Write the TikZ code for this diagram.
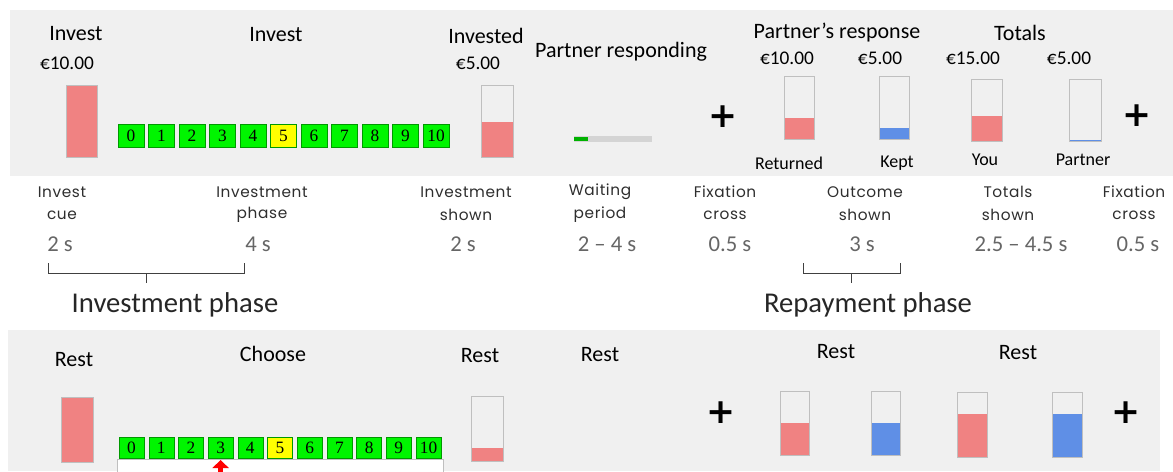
\documentclass[tikz,border=0pt]{standalone}
\usepackage{fontspec}
\setmainfont{Carlito}
\newfontfamily\stagefont[LetterSpace=4]{Poppins}
\newfontfamily\digitfont{Liberation Serif}
\newfontfamily\plusfont{DejaVu Sans}
\usetikzlibrary{arrows.meta}
\definecolor{panelgray}{HTML}{F0F0F0}
\definecolor{coinred}{HTML}{F08282}
\definecolor{coinblue}{HTML}{5F8FE6}
\definecolor{keygreen}{HTML}{00F500}
\definecolor{keyyellow}{HTML}{FFFF00}
\definecolor{stagetext}{HTML}{2E2E2E}
\definecolor{durtext}{HTML}{666666}
\tikzset{
  heading/.style={font=\fontsize{16.5}{18}\selectfont,inner sep=0pt},
  money/.style={font=\fontsize{14.5}{16}\selectfont,inner sep=0pt},
  tag/.style={font=\fontsize{13.5}{15}\selectfont,inner sep=0pt},
  stage/.style={font=\stagefont\fontsize{11.5}{13}\selectfont,text=stagetext,inner sep=0pt},
  dur/.style={font=\fontsize{17}{19}\selectfont,text=durtext,inner sep=0pt},
  phase/.style={font=\fontsize{21.5}{23}\selectfont,text=black!85,inner sep=0pt},
  key/.style={draw=green!60!black,line width=.3pt,inner sep=0pt,font=\digitfont\fontsize{13}{14}\selectfont},
  plus/.style={font=\plusfont\bfseries\fontsize{26}{26}\selectfont,inner sep=0pt},
  tube/.style={draw=black!25,line width=.6pt},
  brace/.style={black!75,line width=.7pt},
}

\begin{document}
\begin{tikzpicture}[x=0.75pt,y=-0.75pt]
\useasboundingbox (0,0) rectangle (1173,471);
\fill[panelgray] (10,10) rectangle (1173,176);
\fill[panelgray] (8,330) rectangle (1160,471);

\node[heading] (investcue) at (76,34) {Invest};
\node[heading] (investkeys) at (276,35) {Invest};
\node[heading] (invested) at (486,36) {Invested};
\node[heading] (waiting) at (621,52) {Partner responding};
\node[heading] (response) at (837,33) {Partner’s response};
\node[heading] (totals) at (1020,33) {Totals};
\node[money] (endow) at (67,63) {€10.00};
\node[money] (sent) at (478,63) {€5.00};
\node[money] (back) at (787,58) {€10.00};
\node[money] (keep) at (880,58) {€5.00};
\node[money] (youtot) at (973,58) {€15.00};
\node[money] (partot) at (1069,58) {€5.00};
\node[tag] (returned) at (789,163) {Returned};
\node[tag] (kept) at (897,163) {Kept};
\node[tag] (you) at (985,160) {You};
\node[tag] (partner) at (1083,160) {Partner};

\foreach \i in {0,...,10}
{
  \ifnum\i=5 \def\keycol{keyyellow}\else\def\keycol{keygreen}\fi
  \node[key,fill=\keycol,minimum width=19.5pt,minimum height=17.25pt] (upkey\i) at ({131+30.5*\i},135.5) {\i};
  \node[key,fill=\keycol,minimum width=18.75pt,minimum height=15.75pt] (lowkey\i) at ({131.5+29.7*\i},447.5) {\i};
}

\foreach \xa/\ya/\xb/\yb/\yf/\col in {66/85/97/157/85/coinred,481/85/513/157/122/coinred,784/76/814/139/118/coinred,879/76/909/139/128/coinblue,971/79/1002/141/116/coinred,1069/79/1101/141/139.5/coinblue,61/397/93/462/397/coinred,471/396/503/461/448/coinred,780/391/809/455/423/coinred,871/391/900/455/423/coinblue,957/392/987/457/414/coinred,1052/392/1082/457/414/coinblue}
{
  \fill[\col] (\xa,\yf) rectangle (\xb,\yb);
  \draw[tube] (\xa,\ya) rectangle (\xb,\yb);
}

\fill[black!17] (574,136) rectangle (652,142);
\fill[green!70!black] (574,137) rectangle (588,141);

\node[plus] (plusA) at (723,117) {+};
\node[plus] (plusB) at (1137,116) {+};
\node[plus] (plusC) at (721,413) {+};
\node[plus] (plusD) at (1126,413) {+};

\foreach \x/\d/\a/\b/\t [count=\n] in {62/60/Invest/cue/2 s,262/258/Investment/phase/4 s,466/463/Investment/shown/2 s,600/607/Waiting/period/2 – 4 s,725/730/Fixation/cross/0.5 s,865/862/Outcome/shown/3 s,1008/1021/Totals/shown/2.5 – 4.5 s,1134/1138/Fixation/cross/0.5 s}
{
  \node[stage] (stage\n) at (\x,192) {\a};
  \node[stage] (kind\n) at (\x,215) {\b};
  \node[dur] (time\n) at (\d,244) {\t};
}

\coordinate (invL) at (48,263);
\coordinate (invR) at (244,263);
\coordinate (invM) at (146,273);
\coordinate (repL) at (803,263);
\coordinate (repR) at (900,263);
\coordinate (repM) at (851,273);
\draw[brace] (invL) -- ++(0,10) -| (invR);
\draw[brace] (invM) -- ++(0,10);
\draw[brace] (repL) -- ++(0,10) -| (repR);
\draw[brace] (repM) -- ++(0,10);
\node[phase] (investphase) at (175,305) {Investment phase};
\node[phase] (repayphase) at (868,305) {Repayment phase};

\node[heading] (rest1) at (74,360) {Rest};
\node[heading] (choose) at (273,354) {Choose};
\node[heading] (rest2) at (480,356) {Rest};
\node[heading] (rest3) at (600,355) {Rest};
\node[heading] (rest4) at (836,352) {Rest};
\node[heading] (rest5) at (1018,353) {Rest};

\draw[black!25,fill=white] (117,459) rectangle (443,476);
\coordinate (cursor) at (220.6,480);
\draw[red,line width=4pt,-{Triangle[width=12pt,length=6pt]}] (cursor) -- (220.6,460);
\end{tikzpicture}
\end{document}
